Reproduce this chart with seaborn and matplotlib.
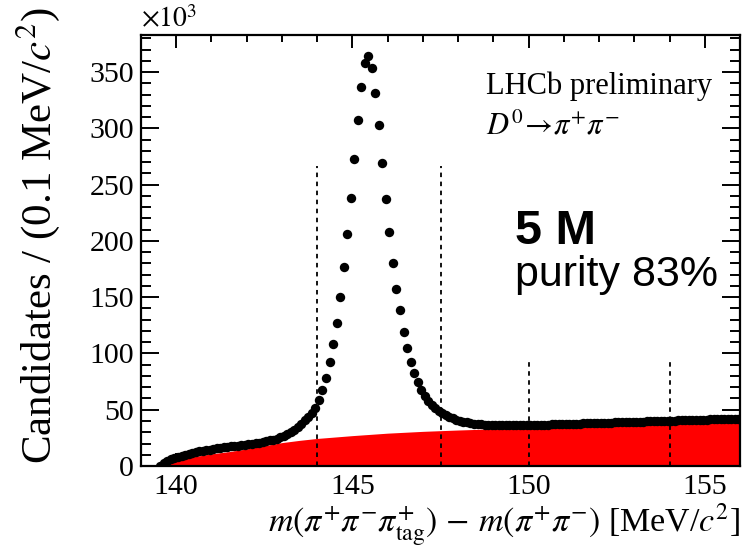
import numpy as np
import matplotlib
matplotlib.use("Agg")
import matplotlib.pyplot as plt
import seaborn as sns

# ---- data (candidates in units of 10^3 per 0.1 MeV/c^2 bin) ----
bin_first = 139.55
bin_width = 0.1
counts = [
    0.3, 2.8, 4.6, 6.0, 7.2, 8.3, 9.2, 10.0, 10.8, 11.5,
    12.2, 12.9, 13.5, 14.1, 14.6, 15.1, 15.6, 16.1, 16.5, 17.0,
    17.4, 17.8, 18.2, 18.6, 19.0, 19.4, 19.8, 20.3, 20.8, 21.4,
    22.0, 22.7, 23.5, 24.4, 25.5, 26.8, 28.3, 30.1, 32.2, 34.7,
    37.6, 40.8, 43.8, 47.0, 51.8, 58.9, 67.5, 78.4, 92.1, 108.1,
    126.7, 150.1, 176.5, 206.0, 238.0, 272.9, 307.9, 336.9, 358.0, 364.0,
    353.7, 331.9, 303.1, 269.4, 237.4, 207.5, 180.0, 156.9, 138.5, 119.0,
    104.8, 92.4, 82.9, 74.6, 67.5, 62.5, 58.0, 54.5, 51.5, 49.0,
    47.0, 45.2, 43.7, 42.4, 41.3, 40.3, 39.5, 38.8, 38.2, 37.7,
    37.3, 37.0, 36.7, 36.5, 36.3, 36.2, 36.1, 36.0, 36.0, 36.0,
    36.0, 36.0, 36.1, 36.1, 36.2, 36.3, 36.4, 36.5, 36.6, 36.7,
    36.8, 36.9, 37.0, 37.1, 37.2, 37.3, 37.4, 37.5, 37.6, 37.7,
    37.8, 37.9, 38.0, 38.1, 38.2, 38.3, 38.4, 38.5, 38.6, 38.7,
    38.8, 38.9, 39.0, 39.1, 39.2, 39.3, 39.4, 39.5, 39.6, 39.7,
    39.8, 39.9, 40.0, 40.1, 40.2, 40.3, 40.4, 40.5, 40.6, 40.7,
    40.8, 40.9, 41.0, 41.1, 41.2, 41.3, 41.4, 41.5, 41.6, 41.7,
    41.7, 41.8, 41.8, 41.8, 41.8,
]
bkg_x = [139.57, 139.7, 139.85, 140.0, 140.25, 140.5, 141.0, 141.5, 142.0, 142.5,
         143.0, 143.5, 144.0, 145.0, 146.0, 147.0, 148.0, 149.0, 150.0, 151.0,
         152.0, 153.0, 154.0, 155.0, 156.0]
bkg_y = [0.0, 2.0, 3.6, 5.0, 6.8, 8.3, 10.8, 12.8, 15.2, 18.0,
         20.8, 22.8, 24.5, 27.0, 29.2, 30.8, 32.0, 33.0, 34.0, 35.0,
         35.9, 36.8, 37.7, 38.7, 39.7]
cut_x = [144.0, 147.5, 150.0, 154.0]
cut_top = [267, 267, 96, 96]
x_ticks = [140, 145, 150, 155]
y_ticks = [0, 50, 100, 150, 200, 250, 300, 350]

centers = np.round(bin_first + bin_width * np.arange(len(counts)), 2)

sns.set_theme(style="ticks")
plt.rcParams['font.family'] = ['Liberation Serif', 'DejaVu Serif']
plt.rcParams['mathtext.fontset'] = 'stix'
for k in ['text.color', 'axes.labelcolor', 'xtick.color', 'ytick.color',
          'axes.edgecolor', 'xtick.labelcolor', 'ytick.labelcolor']:
    plt.rcParams[k] = 'black'

fig = plt.figure(figsize=(7.5, 5.46), dpi=100)
ax = fig.add_axes([0.188, 0.1465, 0.7987, 0.7894])

ax.fill_between(bkg_x, 0, bkg_y, color='#ff0000', linewidth=0, zorder=1)
for cx, ct in zip(cut_x, cut_top):
    ax.plot([cx, cx], [0, ct], color='black', lw=1.3, ls=(0, (2.5, 2.5)), zorder=2)
sns.scatterplot(x=centers, y=counts, ax=ax, color='black', s=46,
                linewidth=0, zorder=3, legend=False)

ax.set_xlim(139, 156)
ax.set_ylim(0, 383)
ax.set_xticks(x_ticks)
ax.set_yticks(y_ticks)
ax.set_xticks(np.arange(139, 157, 1), minor=True)
ax.set_yticks(np.arange(0, 381, 10), minor=True)
ax.tick_params(which='both', direction='in', top=True, right=True, color='black')
ax.tick_params(axis='x', which='major', length=9.5, width=1.4, pad=6, labelsize=21.5)
ax.tick_params(axis='x', which='minor', length=4.8, width=1.4)
ax.tick_params(axis='y', which='major', length=13, width=1.4, pad=5, labelsize=21.5)
ax.tick_params(axis='y', which='minor', length=7, width=1.4)
for sp in ax.spines.values():
    sp.set_linewidth(1.6)
    sp.set_color('black')

ax.set_xlabel(r"$m(\pi^{+}\pi^{-}\pi^{+}_{\rm tag})\,-\,m(\pi^{+}\pi^{-})$ [MeV/$c^{2}$]",
              fontsize=24.5, ha='right', va='center')
ax.xaxis.set_label_coords(1.0, -0.135)
ax.set_ylabel(r"Candidates / (0.1 MeV/$c^{2}$)", fontsize=31, ha='right', va='center')
ax.yaxis.set_label_coords(-0.172, 1.065)

ax.text(0.0, 1.005, r"$\times10^{3}$", transform=ax.transAxes, fontsize=20,
        ha='left', va='bottom')
ax.text(0.576, 0.882, "LHCb preliminary", transform=ax.transAxes, fontsize=22,
        ha='left', va='center')
ax.text(0.576, 0.787, r"$D^{0}\!\rightarrow\!\pi^{+}\pi^{-}$", transform=ax.transAxes,
        fontsize=22, ha='left', va='center')
ax.text(0.625, 0.543, "5 M", transform=ax.transAxes, fontsize=35, fontweight='bold',
        family='Liberation Sans', ha='left', va='center')
ax.text(0.625, 0.443, "purity 83%", transform=ax.transAxes, fontsize=31,
        family='Liberation Sans', ha='left', va='center')

fig.savefig("out.png", dpi=100)
